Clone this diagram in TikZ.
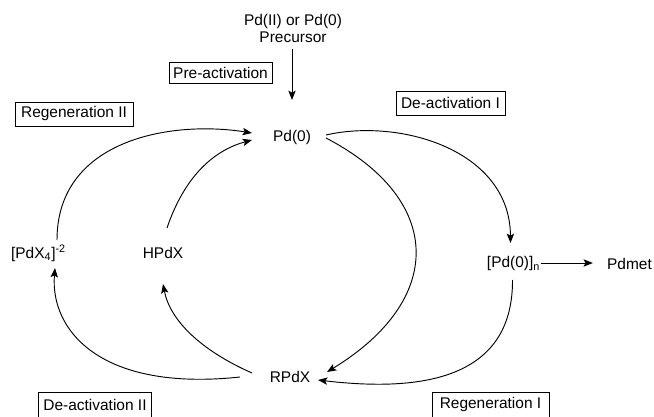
\documentclass[tikz,border=0pt]{standalone}
\usepackage{fontspec}
\setmainfont{Liberation Sans}
\usetikzlibrary{arrows.meta,calc}
\begin{document}
\begin{tikzpicture}[x=0.75pt,y=-0.75pt,
  every node/.style={font=\fontsize{11.6}{12.75}\selectfont},
  lbl/.style={inner sep=0pt},
  tagbox/.style={draw,line width=0.6pt,inner sep=2pt,minimum height=17.25pt},
  conn/.style={line width=0.7pt,-{Stealth[length=7pt,width=5.5pt,inset=1.5pt]}}]
\useasboundingbox (0,0) rectangle (654,417);
% species
\node[lbl,align=center] (pre) at (293,28) {Pd(II) or Pd(0)\\Precursor};
\node[lbl] (pd0) at (292,137) {Pd(0)};
\node[lbl] (pdx4) at (38.5,253) {[PdX\textsubscript{4}]\textsuperscript{-2}};
\node[lbl] (hpdx) at (163,253) {HPdX};
\node[lbl] (pdn) at (513.5,264) {[Pd(0)]\textsubscript{n}};
\node[lbl] (pdmet) at (629.5,264) {Pdmet};
\node[lbl] (rpdx) at (290,377) {RPdX};
% step labels
\node[tagbox,minimum width=77.25pt,minimum height=15.75pt] (tpre) at (220.5,72.5) {Pre-activation};
\node[tagbox,minimum width=88.5pt,minimum height=18pt] (tregII) at (74,114) {Regeneration II};
\node[tagbox,minimum width=81.75pt,minimum height=18pt] (tdeI) at (450.5,103) {De-activation I};
\node[tagbox,minimum width=84.75pt,minimum height=19.5pt] (tdeII) at (95,405) {De-activation II};
\node[tagbox,minimum width=87.75pt,minimum height=19.5pt] (tregI) at (490.5,405) {Regeneration I};
% connectors
\coordinate (pretip) at (292,100);
\draw[conn] (pre.south) ++(-1,7) -- (pretip);
\draw[conn] (pdn.east) ++(1,-1) -- ($(pdmet.west)+(-14,-1)$);
% Regeneration II: PdX4 -> Pd(0)
\draw[conn] ($(pdx4)+(18.5,-13)$) .. controls (57,140) and (170,120) .. ($(pd0)+(-40,-4)$);
% HPdX -> Pd(0)
\draw[conn] ($(hpdx)+(4,-25)$) .. controls (185,175) and (215,150) .. ($(pd0)+(-40,3)$);
% De-activation I: Pd(0) -> [Pd(0)]n
\draw[conn] ($(pd0)+(34,-2)$) .. controls (400,118) and (510,150) .. ($(pdn)+(-3,-21)$);
% Pd(0) -> RPdX
\draw[conn] ($(pd0)+(34,1)$) .. controls (445,200) and (445,300) .. ($(rpdx)+(37,-5)$);
% Regeneration I: [Pd(0)]n -> RPdX
\draw[conn] ($(pdn)+(-1,16)$) .. controls (513,380) and (420,392) .. ($(rpdx)+(28,3)$);
% RPdX -> HPdX
\draw[conn] ($(rpdx)+(-38,-4)$) .. controls (200,350) and (170,320) .. ($(hpdx)+(0,31)$);
% De-activation II: RPdX -> PdX4
\draw[conn] ($(rpdx)+(-50,0)$) .. controls (100,392) and (50,330) .. ($(pdx4)+(16.5,15)$);
\end{tikzpicture}
\end{document}
